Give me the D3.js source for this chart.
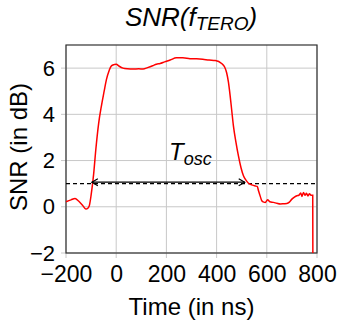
<!DOCTYPE html>
<html>
<head>
<meta charset="utf-8">
<script src="https://cdn.jsdelivr.net/npm/d3@7"></script>
<style>
  body { margin: 0; background: #fff; }
  svg text { font-family: "Liberation Sans", Arial, Helvetica, sans-serif; fill: #000; }
</style>
</head>
<body>
<div id="chart"></div>
<script>
// SNR curve (time in ns, SNR in dB)
const timeNs = [-200, -180, -164, -150, -135, -121, -112, -107, -100, -90, -81, -70, -59, -48, -39, -28, -19, -8, 0, 12, 27, 45, 67, 90, 107, 125, 145, 160, 175, 193, 215, 240, 265, 294, 320, 345, 370, 395, 420, 432, 440, 447, 454, 460, 467, 477, 487, 497, 507, 517, 527, 540, 554, 562, 567, 574, 580, 588, 594, 603, 612, 627, 640, 654, 668, 680, 690, 700, 710, 720, 728, 735, 740, 746, 752, 758, 764, 770, 776, 783, 783.5]
const snrDb = [0.22, 0.3, 0.36, 0.25, 0.08, -0.1, -0.05, 0.05, 0.5, 1.4, 2.5, 3.6, 4.36, 5.0, 5.5, 5.9, 6.1, 6.15, 6.17, 6.08, 6.0, 5.97, 5.96, 5.97, 5.96, 6.02, 6.1, 6.17, 6.2, 6.27, 6.35, 6.45, 6.45, 6.41, 6.4, 6.38, 6.35, 6.33, 6.2, 6.05, 5.8, 5.4, 4.8, 4.2, 3.5, 2.8, 2.2, 1.7, 1.34, 1.15, 1.02, 0.95, 0.9, 0.88, 0.69, 0.45, 0.26, 0.2, 0.19, 0.3, 0.22, 0.19, 0.15, 0.12, 0.13, 0.14, 0.2, 0.33, 0.42, 0.48, 0.5, 0.6, 0.45, 0.62, 0.5, 0.58, 0.47, 0.56, 0.5, 0.5, -2]

const xTicks = [-200, 0, 200, 400, 600, 800]
const yTicks = [-2, 0, 2, 4, 6]
const threshold = 1
const oscStart = -97
const oscEnd = 512

const margin = { top: 45, right: 22, bottom: 69, left: 66 }
const width = 339 - margin.left - margin.right
const height = 322 - margin.top - margin.bottom

const svg = d3.select("#chart").append("svg")
    .attr("width", 339)
    .attr("height", 322)

const g = svg.append("g")
    .attr("transform", "translate(" + margin.left + "," + margin.top + ")")

const x = d3.scaleLinear().domain([-200, 800]).range([0, width])
const y = d3.scaleLinear().domain([-2, 7]).range([height, 0])

// grid lines, extending a little outside the frame like tick marks
g.append("g")
    .attr("class", "grid")
    .selectAll("line.gx")
    .data(xTicks)
    .join("line")
    .attr("x1", d => x(d)).attr("x2", d => x(d))
    .attr("y1", 0).attr("y2", height + 5)
    .attr("stroke", "#c8c8c8").attr("stroke-width", 1)

g.append("g")
    .attr("class", "grid")
    .selectAll("line.gy")
    .data(yTicks)
    .join("line")
    .attr("x1", -5).attr("x2", width)
    .attr("y1", d => y(d)).attr("y2", d => y(d))
    .attr("stroke", "#c8c8c8").attr("stroke-width", 1)

// axes (labels only, ticks drawn above)
const fmt = d => d < 0 ? "\u2212" + Math.abs(d) : String(d)

const xAxis = d3.axisBottom(x).tickValues(xTicks).tickSize(0).tickPadding(13).tickFormat(fmt)
const yAxis = d3.axisLeft(y).tickValues(yTicks).tickSize(0).tickPadding(11).tickFormat(fmt)

g.append("g")
    .attr("transform", "translate(0," + height + ")")
    .call(xAxis)
    .call(s => s.select(".domain").remove())
    .selectAll("text").attr("font-size", "23px")

g.append("g")
    .call(yAxis)
    .call(s => s.select(".domain").remove())
    .selectAll("text").attr("font-size", "22px")

// frame
g.append("rect")
    .attr("width", width).attr("height", height)
    .attr("fill", "none").attr("stroke", "#333").attr("stroke-width", 1.2)

// threshold
g.append("line")
    .attr("x1", 0).attr("x2", width)
    .attr("y1", y(threshold)).attr("y2", y(threshold))
    .attr("stroke", "#000").attr("stroke-width", 1.2)
    .attr("stroke-dasharray", "4,3")

// curve
const line = d3.line()
    .x((d, i) => x(timeNs[i]))
    .y(d => y(d))
    .curve(d3.curveMonotoneX)

g.append("path")
    .datum(snrDb)
    .attr("d", line)
    .attr("fill", "none")
    .attr("stroke", "#ff0000")
    .attr("stroke-width", 1.5)

// Tosc arrow
const ay = y(threshold) - 1.5
const x0 = x(oscStart), x1 = x(oscEnd)
g.append("line")
    .attr("x1", x0).attr("x2", x1)
    .attr("y1", ay).attr("y2", ay)
    .attr("stroke", "#000").attr("stroke-width", 1.2)

g.append("path")
    .attr("d", "M" + (x0 + 6) + "," + (ay - 3.5) + "L" + x0 + "," + ay + "L" + (x0 + 6) + "," + (ay + 3.5))
    .attr("fill", "none").attr("stroke", "#000").attr("stroke-width", 1.2)

g.append("path")
    .attr("d", "M" + (x1 - 6) + "," + (ay - 3.5) + "L" + x1 + "," + ay + "L" + (x1 - 6) + "," + (ay + 3.5))
    .attr("fill", "none").attr("stroke", "#000").attr("stroke-width", 1.2)

const tosc = g.append("text")
    .attr("x", 103)
    .attr("y", 115)
    .attr("font-style", "italic")
tosc.append("tspan").attr("font-size", "24px").text("T")
tosc.append("tspan").attr("font-size", "18px").attr("dy", 5).text("osc")

// title
const title = svg.append("text")
    .attr("x", 191)
    .attr("y", 26)
    .attr("text-anchor", "middle")
    .attr("font-style", "italic")
    .attr("font-size", "26px")
title.append("tspan").text("SNR(f")
title.append("tspan").attr("font-size", "19px").attr("dy", 4).text("TERO")
title.append("tspan").attr("dy", -4).text(")")

// axis labels
svg.append("text")
    .attr("x", margin.left + width / 2)
    .attr("y", 315)
    .attr("text-anchor", "middle")
    .attr("font-size", "24px")
    .text("Time (in ns)")

svg.append("text")
    .attr("transform", "translate(27," + (margin.top + height / 2 - 2) + ") rotate(-90)")
    .attr("text-anchor", "middle")
    .attr("font-size", "24px")
    .text("SNR (in dB)")
</script>
</body>
</html>
